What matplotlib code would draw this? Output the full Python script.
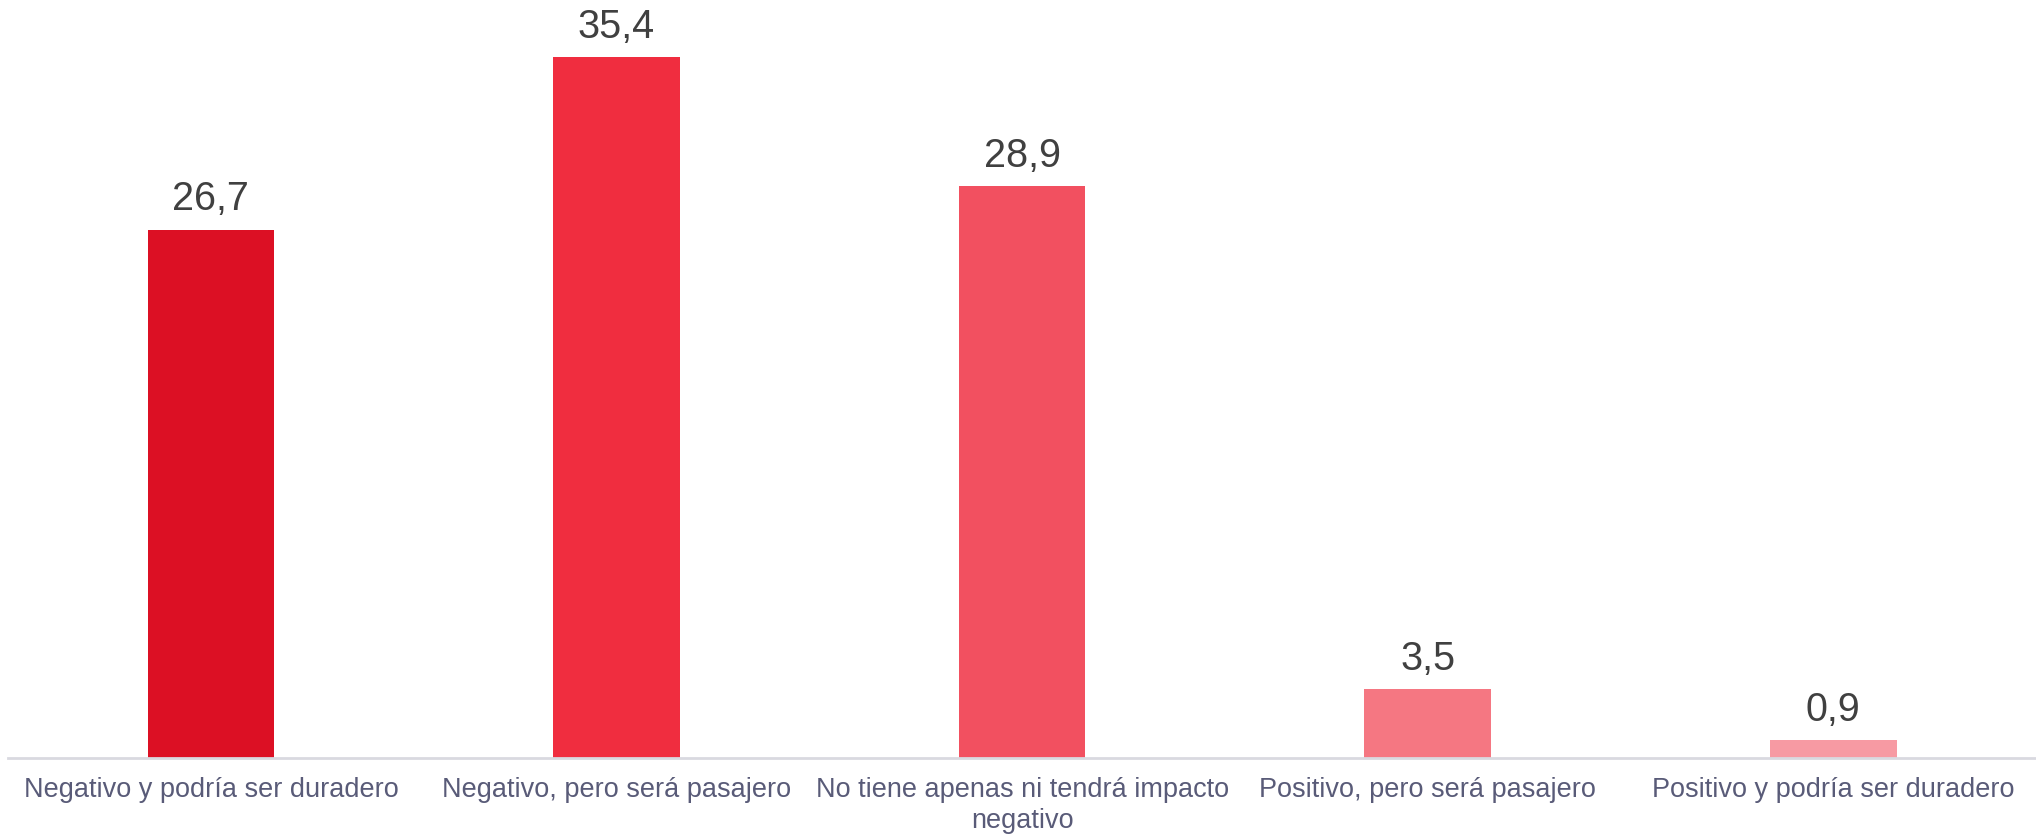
import matplotlib.pyplot as plt
import numpy as np

categories = ['Negativo y podría ser duradero',
              'Negativo, pero será pasajero',
              'No tiene apenas ni tendrá impacto\nnegativo',
              'Positivo, pero será pasajero',
              'Positivo y podría ser duradero']
values = [26.7, 35.4, 28.9, 3.5, 0.9]
colors = ['#DC1024', '#F02D3F', '#F25060', '#F57782', '#F79AA3']

plt.rcParams['font.family'] = ['Liberation Sans', 'DejaVu Sans']

fig = plt.figure(figsize=(20.36, 8.38), dpi=100)
ax = fig.add_axes([0.004, 0.0955, 0.996, 0.9045])

x = np.arange(len(categories))
bars = ax.bar(x, values, width=0.3125, color=colors)

for b, v in zip(bars, values):
    ax.annotate(f'{v:.1f}'.replace('.', ','),
                (b.get_x() + b.get_width() / 2, v),
                xytext=(0, 8), textcoords='offset points',
                ha='center', va='bottom', fontsize=28.5, color='#404040')

ax.set_xlim(-0.5, 4.5)
ax.set_ylim(0, 38.3)
ax.set_xticks(x)
ax.set_xticklabels(categories, fontsize=19.5, color='#595b78', linespacing=1.25)
ax.tick_params(axis='x', length=0, pad=14)
ax.set_yticks([])
for s in ['top', 'right', 'left']:
    ax.spines[s].set_visible(False)
ax.spines['bottom'].set_color('#d9d9e0')
ax.spines['bottom'].set_linewidth(2)

fig.savefig('out.png', dpi=100)
